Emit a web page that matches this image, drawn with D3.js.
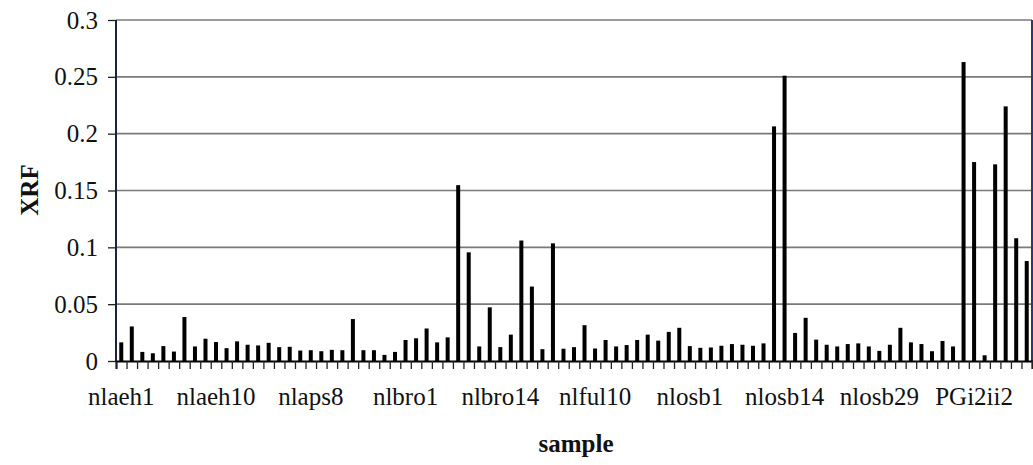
<!DOCTYPE html>
<html>
<head>
<meta charset="utf-8">
<script src="https://cdn.jsdelivr.net/npm/d3@7"></script>
<style>
  body { margin: 0; background: #fff; }
  svg { display: block; }
  svg text { font-family: 'Liberation Serif', 'Times New Roman', 'DejaVu Serif', serif !important; }
</style>
</head>
<body>
<svg id="chart" width="1033" height="465"></svg>
<script>
// XRF value per sample, in plotting order (87 samples)
const xrfValues = [
    0.0164, 0.0304, 0.008, 0.0068, 0.0131, 0.0083, 0.0387, 0.0128, 0.0196, 0.0167,
    0.0113, 0.0173, 0.0143, 0.0137, 0.016, 0.0122, 0.0125, 0.0092, 0.0095, 0.0086,
    0.0098, 0.0095, 0.0369, 0.0095, 0.0095, 0.0054, 0.008, 0.0185, 0.02, 0.0286,
    0.0164, 0.0208, 0.1547, 0.0956, 0.0128, 0.0472, 0.0122, 0.0232, 0.106, 0.0655,
    0.0104, 0.1035, 0.0108, 0.0122, 0.0315, 0.011, 0.0185, 0.0128, 0.014, 0.0185,
    0.0232, 0.0179, 0.0256, 0.0292, 0.0131, 0.0116, 0.0119, 0.0134, 0.0149, 0.0143,
    0.0134, 0.0155, 0.2064, 0.251, 0.0247, 0.038, 0.0188, 0.0143, 0.0128, 0.0149,
    0.0155, 0.0128, 0.0089, 0.0143, 0.0292, 0.0164, 0.0149, 0.0086, 0.0176, 0.0128,
    0.263, 0.175, 0.005, 0.173, 0.224, 0.108, 0.088
];

// only every ninth sample is labelled on the axis
const labelledIndex = [0, 9, 18, 27, 36, 45, 54, 63, 72, 81];
const sampleLabels = ["nlaeh1", "nlaeh10", "nlaps8", "nlbro1", "nlbro14",
    "nlful10", "nlosb1", "nlosb14", "nlosb29", "PGi2ii2"];

const yTicks = [0, 0.05, 0.1, 0.15, 0.2, 0.25, 0.3];

const svg = d3.select("#chart");
const plotLeft = 116, plotRight = 1032, plotTop = 20, plotBottom = 361;

const categories = d3.range(xrfValues.length);

const x = d3.scaleBand()
    .domain(categories)
    .range([plotLeft, plotRight])
    .paddingInner(0.62)
    .paddingOuter(0.31);

// boundaries between categories, for tick marks
const xb = d3.scaleLinear()
    .domain([0, categories.length])
    .range([plotLeft, plotRight]);

const y = d3.scaleLinear()
    .domain([0, 0.3])
    .range([plotBottom, plotTop]);

// Gridlines
svg.append("g")
    .selectAll("line")
    .data(yTicks.filter(d => d > 0))
    .join("line")
    .attr("x1", plotLeft)
    .attr("x2", plotRight)
    .attr("y1", d => y(d))
    .attr("y2", d => y(d))
    .attr("stroke", "#7a7a7a")
    .attr("stroke-width", 1.6);

// Plot frame (left/right)
svg.append("line")
    .attr("x1", plotLeft).attr("x2", plotLeft)
    .attr("y1", plotTop).attr("y2", plotBottom)
    .attr("stroke", "#1c2340").attr("stroke-width", 2);
svg.append("line")
    .attr("x1", plotRight).attr("x2", plotRight)
    .attr("y1", plotTop).attr("y2", plotBottom)
    .attr("stroke", "#2a3a6a").attr("stroke-width", 2);

// Bars
svg.append("g")
    .selectAll("rect")
    .data(xrfValues)
    .join("rect")
    .attr("x", (d, i) => x(i))
    .attr("y", d => y(d))
    .attr("width", x.bandwidth())
    .attr("height", d => y(0) - y(d))
    .attr("fill", "#000");

// Y axis
const yAxis = svg.append("g")
    .attr("transform", `translate(${plotLeft},0)`)
    .call(d3.axisLeft(y)
        .tickValues(yTicks)
        .tickSize(8)
        .tickPadding(10)
        .tickFormat(d => d3.format("~g")(d)));
yAxis.select(".domain").remove();
yAxis.selectAll(".tick line").attr("stroke", "#222").attr("stroke-width", 1.3);
yAxis.selectAll("text")
    .style("font-size", "25px")
    .attr("fill", "#111");

// X axis tick marks
const xTicks = svg.append("g")
    .attr("transform", `translate(0,${plotBottom})`)
    .call(d3.axisBottom(xb)
        .tickValues(d3.range(categories.length + 1))
        .tickSize(8)
        .tickFormat(""));
xTicks.select(".domain")
    .attr("stroke", "#000")
    .attr("stroke-width", 2);
xTicks.selectAll(".tick line").attr("stroke", "#222").attr("stroke-width", 1.3);

// X axis labels
const xLabels = svg.append("g")
    .attr("transform", `translate(0,${plotBottom})`)
    .call(d3.axisBottom(x)
        .tickValues(labelledIndex)
        .tickSize(0)
        .tickPadding(26)
        .tickFormat((d, i) => sampleLabels[i]));
xLabels.select(".domain").remove();
xLabels.selectAll("text")
    .style("font-size", "25px")
    .attr("fill", "#111");

// Axis titles
svg.append("text")
    .attr("x", 576)
    .attr("y", 452)
    .attr("text-anchor", "middle")
    .attr("font-weight", "bold")
    .style("font-size", "25px")
    .attr("fill", "#111")
    .text("sample");

svg.append("text")
    .attr("transform", "translate(38,190) rotate(-90)")
    .attr("text-anchor", "middle")
    .attr("font-weight", "bold")
    .style("font-size", "25px")
    .attr("fill", "#111")
    .text("XRF");
</script>
</body>
</html>
